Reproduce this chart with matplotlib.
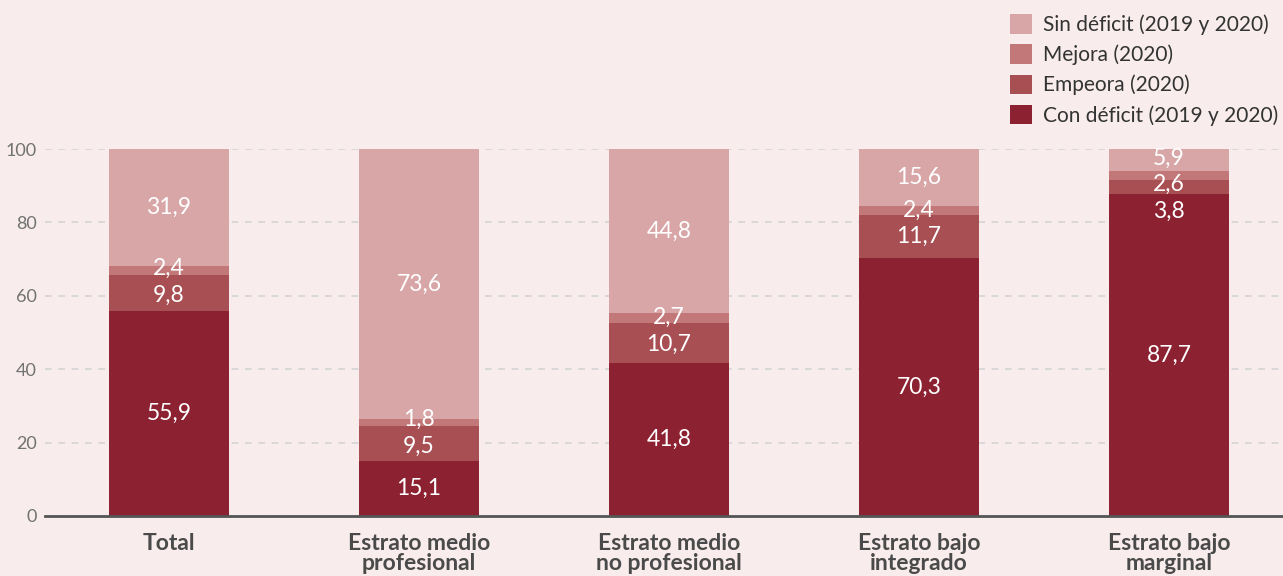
import matplotlib
matplotlib.use("Agg")
import matplotlib.pyplot as plt
from matplotlib.patches import Patch
import numpy as np

plt.rcParams['font.family'] = ['Lato', 'DejaVu Sans']

categories = ["Total", "Estrato medio\nprofesional", "Estrato medio\nno profesional",
              "Estrato bajo\nintegrado", "Estrato bajo\nmarginal"]
con_deficit = [55.9, 15.1, 41.8, 70.3, 87.7]
empeora = [9.8, 9.5, 10.7, 11.7, 3.8]
mejora = [2.4, 1.8, 2.7, 2.4, 2.6]
sin_deficit = [31.9, 73.6, 44.8, 15.6, 5.9]

series = [
    ("Con déficit (2019 y 2020)", con_deficit, "#8B2131"),
    ("Empeora (2020)", empeora, "#A84F53"),
    ("Mejora (2020)", mejora, "#C27878"),
    ("Sin déficit (2019 y 2020)", sin_deficit, "#D9A6A7"),
]

bg = "#F8ECEC"
W, H = 1283, 576
fig = plt.figure(figsize=(W / 100, H / 100), dpi=100, facecolor=bg)
ax = fig.add_axes([45 / W, 60 / H, (W - 45) / W, 367 / H], facecolor=bg)

x = np.arange(len(categories))
width = 0.48
bottom = np.zeros(len(categories))
centers = []
for name, vals, color in series:
    vals = np.array(vals)
    ax.bar(x, vals, width, bottom=bottom, color=color, label=name, zorder=3,
           clip_on=False)
    centers.append(bottom + vals / 2)
    bottom = bottom + vals

# value labels, spread apart where segments are too thin
centers = np.array(centers)  # shape (series, categories)
min_gap = 7.2
top_limit = 97.5
for j in range(len(categories)):
    pos = centers[:, j].copy()
    for _ in range(200):
        pos[-1] = min(pos[-1], top_limit)
        for i in range(len(pos) - 1):
            gap = pos[i + 1] - pos[i]
            if gap < min_gap:
                d = (min_gap - gap) / 2
                pos[i] -= d
                pos[i + 1] += d
    pos[-1] = min(pos[-1], top_limit)
    for i, (name, vals, color) in enumerate(series):
        ax.text(x[j], pos[i], f"{vals[j]:.1f}".replace(".", ","),
                ha="center", va="center", color="white", fontsize=16.5, zorder=4)

ax.set_xlim(-0.496, 4.456)
ax.set_ylim(0, 100)
ax.set_yticks([0, 20, 40, 60, 80, 100])
ax.tick_params(axis="y", length=0, pad=6, labelsize=13, labelcolor="#727272")
ax.grid(axis="y", linestyle=(0, (4, 4)), color="#D3D3D3", linewidth=1.2, zorder=1)
ax.set_xticks(x)
ax.set_xticklabels(categories, fontsize=16.5, fontweight="bold", color="#4A4A4A",
                   linespacing=0.98)
ax.tick_params(axis="x", length=0, pad=12)
for s in ["top", "right", "left"]:
    ax.spines[s].set_visible(False)
ax.spines["bottom"].set_color("#555555")
ax.spines["bottom"].set_linewidth(2)
ax.spines["bottom"].set_zorder(5)

handles = [Patch(facecolor=c, label=n) for n, v, c in series[::-1]]
fig.legend(handles=handles, loc="upper right", bbox_to_anchor=(1.0 + 4 / W, 1 - 6 / H),
           frameon=False, fontsize=15, handlelength=1.05, handleheight=1.05,
           handletextpad=0.55, labelspacing=0.45, labelcolor="#333333",
           borderaxespad=0)

fig.savefig("out.png", dpi=100, facecolor=bg)
